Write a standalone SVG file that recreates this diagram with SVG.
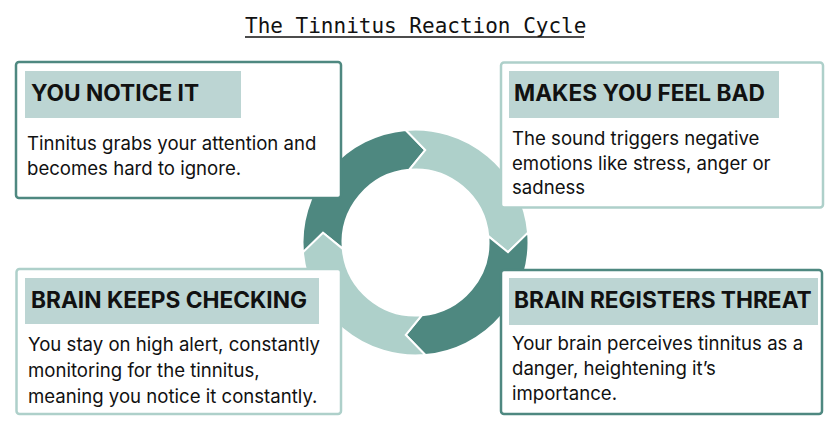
<svg xmlns="http://www.w3.org/2000/svg" width="833" height="421" viewBox="0 0 833 421">
<style>
.title{font-family:"DejaVu Sans Mono","Liberation Mono",monospace;font-size:21px;fill:#111}
.hd{font-family:Inter,"Noto Sans",sans-serif;font-size:22.7px;font-weight:700;fill:#111}
.bd{font-family:Inter,"Noto Sans",sans-serif;font-size:18.6px;fill:#111}
.hbg{fill:#bcd5d3}
.boxd{fill:#fff;stroke:#4e8880;stroke-width:2.5}
.boxl{fill:#fff;stroke:#aed0ca;stroke-width:2.5}
.dark{fill:#4e8880;stroke:#fff;stroke-width:2;stroke-linejoin:miter}
.light{fill:#aed0ca;stroke:#fff;stroke-width:2;stroke-linejoin:miter}
</style>
<defs>
<path id="seg" d="M 302.93 252.35 A 113 113 0 0 1 405.65 129.93 L 425.22 150.01 L 409.14 169.78 A 73 73 0 0 0 342.78 248.86 L 323.01 232.78 Z"/>
</defs>
<rect width="833" height="421" fill="#fff"/>
<g id="title">
<text class="title" x="245" y="33">The Tinnitus Reaction Cycle</text>
<line x1="245" y1="37" x2="584" y2="37" stroke="#111" stroke-width="1.5"/>
</g>
<g id="connectors">
<use href="#seg" class="dark"/>
<use href="#seg" class="light" transform="rotate(90 415.5 242.5)"/>
<use href="#seg" class="dark" transform="rotate(180 415.5 242.5)"/>
<use href="#seg" class="light" transform="rotate(270 415.5 242.5)"/>
</g>
<g id="notice">
<rect class="boxd" x="16" y="62" width="325" height="136" rx="3"/>
<rect class="hbg" x="25" y="71" width="216" height="47"/>
<text class="hd" x="31" y="101">YOU NOTICE IT</text>
<text class="bd" x="27" y="150">Tinnitus grabs your attention and</text>
<text class="bd" x="27" y="175">becomes hard to ignore.</text>
</g>
<g id="feelbad">
<rect class="boxl" x="501" y="62.5" width="322" height="145" rx="3"/>
<rect class="hbg" x="509" y="71" width="270" height="47"/>
<text class="hd" x="514" y="101">MAKES YOU FEEL BAD</text>
<text class="bd" x="512" y="145">The sound triggers negative</text>
<text class="bd" x="512" y="170">emotions like stress, anger or</text>
<text class="bd" x="512" y="194">sadness</text>
</g>
<g id="threat">
<rect class="boxd" x="501" y="270" width="321" height="144" rx="3"/>
<rect class="hbg" x="509" y="278" width="309" height="47"/>
<text class="hd" x="514" y="308">BRAIN REGISTERS THREAT</text>
<text class="bd" x="512" y="350">Your brain perceives tinnitus as a</text>
<text class="bd" x="512" y="375">danger, heightening it’s</text>
<text class="bd" x="512" y="400">importance.</text>
</g>
<g id="checking">
<rect class="boxl" x="16.5" y="269" width="324.5" height="145" rx="3"/>
<rect class="hbg" x="25" y="278" width="294" height="46"/>
<text class="hd" x="31" y="308">BRAIN KEEPS CHECKING</text>
<text class="bd" x="28" y="351">You stay on high alert, constantly</text>
<text class="bd" x="28" y="377">monitoring for the tinnitus,</text>
<text class="bd" x="28" y="403">meaning you notice it constantly.</text>
</g>
</svg>
